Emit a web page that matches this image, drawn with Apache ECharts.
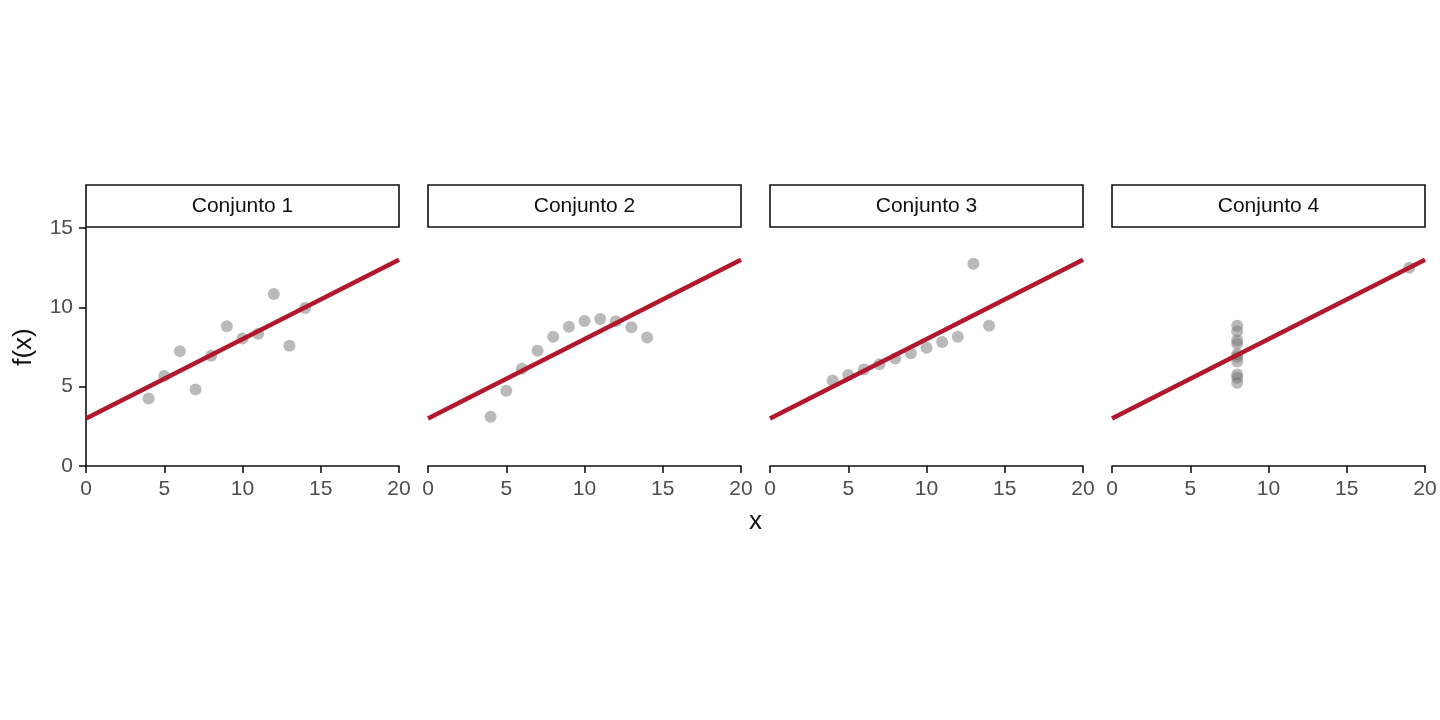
<!DOCTYPE html>
<html><head><meta charset="utf-8">
<script src="https://cdn.jsdelivr.net/npm/echarts@6/dist/echarts.min.js"></script>
<style>html,body{margin:0;padding:0;background:#fff}#c{width:1440px;height:720px}</style>
</head><body><div id="c"></div>
<script>
const panels = ['Conjunto 1','Conjunto 2','Conjunto 3','Conjunto 4'];
const x123 = [10,8,13,9,11,14,6,4,12,7,5];
const x4 = [8,8,8,8,8,8,8,19,8,8,8];
const y1 = [8.04,6.95,7.58,8.81,8.33,9.96,7.24,4.26,10.84,4.82,5.68];
const y2 = [9.14,8.14,8.74,8.77,9.26,8.10,6.13,3.10,9.13,7.26,4.74];
const y3 = [7.46,6.77,12.74,7.11,7.81,8.84,6.08,5.39,8.15,6.42,5.73];
const y4 = [6.58,5.76,7.71,8.84,8.47,7.04,5.25,12.50,5.56,7.91,6.89];
const fitX = [0, 20];
const fitY = [3.0, 13.0];
const xTicks = [0,5,10,15,20];
const yTicks = [0,5,10,15];

const xs = [x123, x123, x123, x4];
const ys = [y1, y2, y3, y4];
const lefts = [86, 428, 770, 1112];
const W = 313, TOP = 228, H = 238, STRIP = 42;
const FONT = 'Liberation Sans, Arial, sans-serif';

const chart = echarts.init(document.getElementById('c'));
const grid = [], xAxis = [], yAxis = [], series = [], graphic = [];
const axisColor = '#111';
const labelColor = '#4d4d4d';
panels.forEach((p, i) => {
  grid.push({left: lefts[i], top: TOP, width: W, height: H, containLabel: false});
  xAxis.push({
    type: 'value', gridIndex: i, min: 0, max: 20, interval: 5,
    axisLine: {show: true, onZero: false, lineStyle: {color: axisColor, width: 1.6}},
    axisTick: {show: true, length: 7, lineStyle: {color: axisColor, width: 1.6}},
    axisLabel: {color: labelColor, fontSize: 21, fontFamily: FONT, margin: 13,
      formatter: v => xTicks.includes(v) ? String(v) : ''},
    splitLine: {show: false}
  });
  yAxis.push({
    type: 'value', gridIndex: i, min: 0, max: 15, interval: 5,
    show: i === 0,
    axisLine: {show: true, onZero: false, lineStyle: {color: axisColor, width: 1.6}},
    axisTick: {show: true, length: 7, lineStyle: {color: axisColor, width: 1.6}},
    axisLabel: {color: labelColor, fontSize: 21, fontFamily: FONT, margin: 13,
      formatter: v => yTicks.includes(v) ? String(v) : ''},
    splitLine: {show: false},
    name: i === 0 ? 'f(x)' : '', nameLocation: 'middle', nameGap: 49, nameRotate: 90,
    nameTextStyle: {fontSize: 26, color: '#111', fontFamily: FONT}
  });
  series.push({
    type: 'scatter', xAxisIndex: i, yAxisIndex: i, symbolSize: 12,
    itemStyle: {color: 'rgba(110,110,110,0.6)'},
    data: xs[i].map((x, k) => [x, ys[i][k]]), z: 2, silent: true
  });
  series.push({
    type: 'line', xAxisIndex: i, yAxisIndex: i, showSymbol: false, symbol: 'none',
    lineStyle: {color: '#b2182b', width: 4.5},
    data: fitX.map((x, k) => [x, fitY[k]]), z: 3, silent: true
  });
  graphic.push({
    type: 'rect', shape: {x: lefts[i], y: TOP - STRIP - 1, width: W, height: STRIP},
    style: {fill: '#fff', stroke: '#111', lineWidth: 1.6}
  });
  graphic.push({
    type: 'text', x: lefts[i] + W / 2, y: TOP - 1 - STRIP / 2,
    style: {text: p, fontSize: 21, fill: '#111', fontFamily: FONT,
      textAlign: 'center', textVerticalAlign: 'middle'}
  });
});
graphic.push({
  type: 'text', x: (lefts[0] + lefts[3] + W) / 2, y: 522,
  style: {text: 'x', fontSize: 26, fill: '#111', fontFamily: FONT,
    textAlign: 'center', textVerticalAlign: 'middle'}
});

chart.setOption({animation: false, grid, xAxis, yAxis, series, graphic});
</script></body></html>
